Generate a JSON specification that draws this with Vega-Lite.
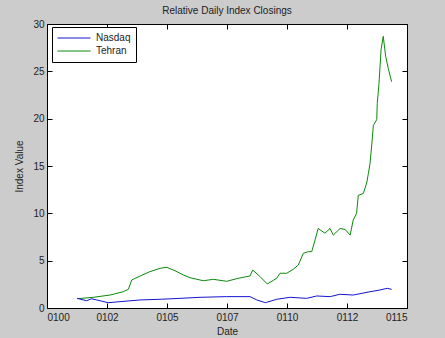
{
  "$schema": "https://vega.github.io/schema/vega-lite/v6.json",
  "width": 360,
  "height": 284,
  "autosize": "none",
  "padding": {"left": 47, "top": 24, "right": 38, "bottom": 30},
  "background": "#cccccc",
  "config": {
    "font": "Liberation Sans",
    "view": {"fill": "white", "stroke": "black", "strokeWidth": 1},
    "axis": {"grid": false, "domain": false, "tickColor": "black", "tickSize": -5, "labelColor": "#222222", "labelFontSize": 10, "titleFontSize": 10, "titleFontWeight": "normal", "titleColor": "#222222"}
  },
  "title": {"text": "Relative Daily Index Closings", "fontSize": 10, "fontWeight": "normal", "color": "#222222", "offset": 3},
  "data": {"values": [
    {"year": 2001.26, "value": 0.98, "series": "Tehran"},
    {"year": 2001.93, "value": 1.13, "series": "Tehran"},
    {"year": 2002.63, "value": 1.37, "series": "Tehran"},
    {"year": 2003.18, "value": 1.72, "series": "Tehran"},
    {"year": 2003.39, "value": 1.98, "series": "Tehran"},
    {"year": 2003.53, "value": 2.96, "series": "Tehran"},
    {"year": 2003.88, "value": 3.38, "series": "Tehran"},
    {"year": 2004.29, "value": 3.84, "series": "Tehran"},
    {"year": 2004.71, "value": 4.19, "series": "Tehran"},
    {"year": 2004.99, "value": 4.3, "series": "Tehran"},
    {"year": 2005.33, "value": 3.94, "series": "Tehran"},
    {"year": 2005.68, "value": 3.49, "series": "Tehran"},
    {"year": 2005.96, "value": 3.2, "series": "Tehran"},
    {"year": 2006.51, "value": 2.88, "series": "Tehran"},
    {"year": 2006.93, "value": 3.03, "series": "Tehran"},
    {"year": 2007.49, "value": 2.82, "series": "Tehran"},
    {"year": 2007.97, "value": 3.14, "series": "Tehran"},
    {"year": 2008.46, "value": 3.38, "series": "Tehran"},
    {"year": 2008.57, "value": 4.01, "series": "Tehran"},
    {"year": 2008.88, "value": 3.31, "series": "Tehran"},
    {"year": 2009.18, "value": 2.54, "series": "Tehran"},
    {"year": 2009.57, "value": 3.14, "series": "Tehran"},
    {"year": 2009.71, "value": 3.67, "series": "Tehran"},
    {"year": 2009.99, "value": 3.67, "series": "Tehran"},
    {"year": 2010.26, "value": 4.09, "series": "Tehran"},
    {"year": 2010.47, "value": 4.54, "series": "Tehran"},
    {"year": 2010.68, "value": 5.78, "series": "Tehran"},
    {"year": 2010.89, "value": 5.95, "series": "Tehran"},
    {"year": 2011.03, "value": 5.95, "series": "Tehran"},
    {"year": 2011.17, "value": 7.2, "series": "Tehran"},
    {"year": 2011.3, "value": 8.4, "series": "Tehran"},
    {"year": 2011.58, "value": 7.9, "series": "Tehran"},
    {"year": 2011.79, "value": 8.4, "series": "Tehran"},
    {"year": 2011.93, "value": 7.7, "series": "Tehran"},
    {"year": 2012.21, "value": 8.4, "series": "Tehran"},
    {"year": 2012.42, "value": 8.3, "series": "Tehran"},
    {"year": 2012.63, "value": 7.7, "series": "Tehran"},
    {"year": 2012.76, "value": 9.3, "series": "Tehran"},
    {"year": 2012.9, "value": 10.0, "series": "Tehran"},
    {"year": 2012.97, "value": 11.9, "series": "Tehran"},
    {"year": 2013.18, "value": 12.1, "series": "Tehran"},
    {"year": 2013.32, "value": 13.2, "series": "Tehran"},
    {"year": 2013.39, "value": 14.2, "series": "Tehran"},
    {"year": 2013.46, "value": 15.3, "series": "Tehran"},
    {"year": 2013.53, "value": 17.2, "series": "Tehran"},
    {"year": 2013.6, "value": 19.3, "series": "Tehran"},
    {"year": 2013.74, "value": 19.9, "series": "Tehran"},
    {"year": 2013.76, "value": 21.6, "series": "Tehran"},
    {"year": 2013.83, "value": 23.6, "series": "Tehran"},
    {"year": 2013.92, "value": 27.3, "series": "Tehran"},
    {"year": 2014.01, "value": 28.7, "series": "Tehran"},
    {"year": 2014.11, "value": 26.6, "series": "Tehran"},
    {"year": 2014.22, "value": 25.3, "series": "Tehran"},
    {"year": 2014.36, "value": 23.9, "series": "Tehran"},
    {"year": 2001.26, "value": 1.02, "series": "Nasdaq"},
    {"year": 2001.65, "value": 0.77, "series": "Nasdaq"},
    {"year": 2001.86, "value": 0.98, "series": "Nasdaq"},
    {"year": 2002.07, "value": 0.85, "series": "Nasdaq"},
    {"year": 2002.55, "value": 0.56, "series": "Nasdaq"},
    {"year": 2003.04, "value": 0.67, "series": "Nasdaq"},
    {"year": 2003.88, "value": 0.85, "series": "Nasdaq"},
    {"year": 2004.71, "value": 0.92, "series": "Nasdaq"},
    {"year": 2005.54, "value": 1.02, "series": "Nasdaq"},
    {"year": 2006.38, "value": 1.13, "series": "Nasdaq"},
    {"year": 2007.49, "value": 1.2, "series": "Nasdaq"},
    {"year": 2008.46, "value": 1.2, "series": "Nasdaq"},
    {"year": 2008.74, "value": 0.85, "series": "Nasdaq"},
    {"year": 2009.1, "value": 0.56, "series": "Nasdaq"},
    {"year": 2009.57, "value": 0.92, "series": "Nasdaq"},
    {"year": 2010.13, "value": 1.13, "series": "Nasdaq"},
    {"year": 2010.82, "value": 1.02, "series": "Nasdaq"},
    {"year": 2011.24, "value": 1.27, "series": "Nasdaq"},
    {"year": 2011.8, "value": 1.2, "series": "Nasdaq"},
    {"year": 2012.2, "value": 1.45, "series": "Nasdaq"},
    {"year": 2012.76, "value": 1.37, "series": "Nasdaq"},
    {"year": 2013.46, "value": 1.72, "series": "Nasdaq"},
    {"year": 2013.87, "value": 1.9, "series": "Nasdaq"},
    {"year": 2014.18, "value": 2.08, "series": "Nasdaq"},
    {"year": 2014.36, "value": 1.97, "series": "Nasdaq"}
  ]},
  "layer": [
    {
      "mark": {"type": "line", "strokeWidth": 1},
      "encoding": {
        "x": {"field": "year", "type": "quantitative", "scale": {"domain": [2000, 2015], "nice": false, "zero": false},
          "axis": {"orient": "bottom", "title": "Date", "values": [2000, 2002.5, 2005, 2007.5, 2010, 2012.5, 2015],
            "labelExpr": "['0100','0102','0105','0107','0110','0112','0115'][round((datum.value-2000)/2.5)]", "labelPadding": 9, "titlePadding": 4}},
        "y": {"field": "value", "type": "quantitative", "scale": {"domain": [0, 30], "nice": false},
          "axis": {"orient": "left", "title": "Index Value", "values": [0, 5, 10, 15, 20, 25, 30], "labelPadding": 8, "titlePadding": 8}},
        "color": {"field": "series", "type": "nominal", "scale": {"domain": ["Nasdaq", "Tehran"], "range": ["#1414d0", "#0a8a0a"]},
          "legend": {"title": null, "orient": "none", "legendX": 5, "legendY": 3, "symbolType": "stroke", "symbolSize": 1089, "symbolStrokeWidth": 1,
            "clipHeight": 12, "fillColor": "white", "strokeColor": "black", "padding": 5, "labelFontSize": 10, "labelColor": "#222222", "labelOffset": 5, "rowPadding": 1}}
      }
    },
    {
      "mark": {"type": "point", "opacity": 0},
      "encoding": {
        "x": {"field": "year", "type": "quantitative", "axis": {"orient": "top", "title": null, "labels": false, "values": [2000, 2002.5, 2005, 2007.5, 2010, 2012.5, 2015]}},
        "y": {"field": "value", "type": "quantitative", "axis": {"orient": "right", "title": null, "labels": false, "values": [0, 5, 10, 15, 20, 25, 30]}}
      }
    }
  ],
  "resolve": {"axis": {"x": "independent", "y": "independent"}}
}
